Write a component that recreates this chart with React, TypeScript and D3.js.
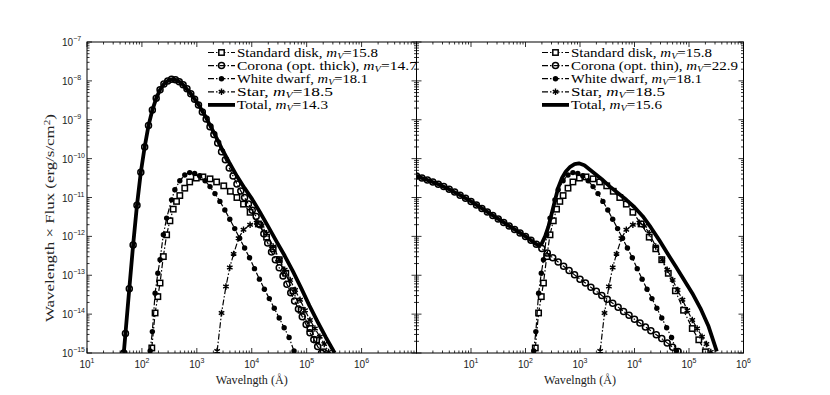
import React from "react";
import * as d3 from "d3";

// values are log10(wavelength in Å), log10(lambda * F_lambda)
const standardDisk: [number, number][] = [
  [2.18, -14.87], [2.24, -13.97], [2.29, -13.55], [2.33, -13.2], [2.39, -12.52], [2.45, -11.96],
  [2.51, -11.6], [2.57, -11.3], [2.63, -11.1], [2.69, -10.95], [2.78, -10.76], [2.87, -10.6],
  [2.99, -10.5], [3.11, -10.47], [3.24, -10.52], [3.36, -10.6], [3.49, -10.7], [3.61, -10.84],
  [3.73, -11.0], [3.85, -11.17], [3.97, -11.38], [4.12, -11.68], [4.27, -12.02], [4.39, -12.32],
  [4.5, -12.6], [4.62, -12.95], [4.75, -13.4], [4.9, -13.9], [5.06, -14.37], [5.18, -14.66], [5.3, -14.97],
];

const whiteDwarf: [number, number][] = [
  [2.15, -14.95], [2.19, -14.45], [2.24, -13.46], [2.29, -12.95], [2.33, -12.6], [2.39, -11.96],
  [2.45, -11.53], [2.54, -11.06], [2.6, -10.8], [2.69, -10.57], [2.78, -10.42], [2.87, -10.36],
  [2.96, -10.38], [3.05, -10.44], [3.15, -10.57], [3.24, -10.72], [3.33, -10.9], [3.42, -11.1],
  [3.51, -11.32], [3.6, -11.56], [3.69, -11.8], [3.78, -12.05], [3.87, -12.3], [3.96, -12.55],
  [4.05, -12.83], [4.14, -13.1], [4.23, -13.36], [4.32, -13.6], [4.41, -13.85], [4.5, -14.1],
  [4.59, -14.35], [4.68, -14.6], [4.77, -14.95],
];

const star: [number, number][] = [
  [3.37, -14.95], [3.45, -13.97], [3.53, -13.29], [3.6, -12.8], [3.67, -12.45], [3.76, -12.05],
  [3.85, -11.83], [3.97, -11.7], [4.09, -11.65], [4.18, -11.73], [4.27, -11.92], [4.39, -12.26],
  [4.51, -12.6], [4.6, -12.86], [4.7, -13.12], [4.79, -13.38], [4.88, -13.63], [4.97, -13.9],
  [5.06, -14.15], [5.15, -14.37], [5.24, -14.58], [5.32, -14.77], [5.4, -14.97],
];

const coronaThick: [number, number][] = [
  [1.67, -15.0], [1.7, -14.5], [1.77, -13.35], [1.84, -12.22], [1.91, -11.2], [1.98, -10.35],
  [2.05, -9.7], [2.12, -9.15], [2.19, -8.75], [2.26, -8.45], [2.33, -8.23], [2.4, -8.08],
  [2.47, -8.0], [2.54, -7.96], [2.61, -7.97], [2.68, -8.02], [2.75, -8.1], [2.82, -8.2],
  [2.89, -8.33], [2.96, -8.47], [3.03, -8.62], [3.1, -8.8], [3.17, -8.98], [3.24, -9.18],
  [3.31, -9.38], [3.38, -9.6], [3.45, -9.82], [3.52, -10.03], [3.59, -10.24], [3.66, -10.45],
  [3.73, -10.65], [3.8, -10.83], [3.87, -11.0], [3.94, -11.17], [4.01, -11.33], [4.08, -11.49],
  [4.15, -11.7], [4.22, -11.93], [4.29, -12.17], [4.36, -12.4], [4.43, -12.6], [4.5, -12.81],
  [4.57, -13.02], [4.64, -13.23], [4.71, -13.45], [4.78, -13.66], [4.85, -13.87], [4.92, -14.07],
  [4.99, -14.27], [5.06, -14.48], [5.13, -14.65], [5.2, -14.83], [5.27, -15.0],
];

const totalThick: [number, number][] = [
  [1.67, -15.0], [1.7, -14.5], [1.77, -13.35], [1.84, -12.22], [1.91, -11.2], [1.98, -10.35],
  [2.05, -9.7], [2.12, -9.15], [2.19, -8.75], [2.26, -8.45], [2.33, -8.23], [2.4, -8.08],
  [2.47, -8.0], [2.54, -7.96], [2.61, -7.97], [2.68, -8.02], [2.75, -8.1], [2.89, -8.33],
  [3.03, -8.61], [3.17, -8.95], [3.31, -9.33], [3.45, -9.73], [3.59, -10.1], [3.73, -10.45],
  [3.87, -10.76], [4.01, -11.05], [4.15, -11.38], [4.3, -11.75], [4.45, -12.13], [4.6, -12.5],
  [4.75, -12.9], [4.9, -13.33], [5.05, -13.78], [5.2, -14.2], [5.35, -14.6], [5.51, -15.0],
];

const coronaThin: [number, number][] = [
  [0.0, -10.45], [0.1, -10.5], [0.2, -10.55], [0.3, -10.6], [0.4, -10.66], [0.5, -10.72],
  [0.6, -10.79], [0.7, -10.86], [0.8, -10.94], [0.9, -11.02], [1.0, -11.1], [1.1, -11.19],
  [1.2, -11.28], [1.3, -11.37], [1.4, -11.46], [1.5, -11.55], [1.6, -11.64], [1.7, -11.73],
  [1.8, -11.82], [1.9, -11.91], [2.0, -12.0], [2.1, -12.1], [2.2, -12.2], [2.3, -12.31],
  [2.4, -12.43], [2.5, -12.55], [2.6, -12.66], [2.7, -12.77], [2.8, -12.88], [2.9, -12.99],
  [3.0, -13.1], [3.1, -13.2], [3.2, -13.31], [3.3, -13.41], [3.4, -13.52], [3.5, -13.62],
  [3.6, -13.72], [3.7, -13.82], [3.8, -13.93], [3.9, -14.03], [4.0, -14.13], [4.1, -14.23],
  [4.2, -14.33], [4.3, -14.43], [4.4, -14.53], [4.5, -14.63], [4.6, -14.74], [4.7, -14.85], [4.8, -14.96],
];

const totalThin: [number, number][] = [
  [0.0, -10.45], [0.2, -10.55], [0.4, -10.66], [0.6, -10.79], [0.8, -10.94], [1.0, -11.1],
  [1.2, -11.28], [1.4, -11.46], [1.6, -11.64], [1.8, -11.82], [2.0, -12.0], [2.15, -12.15],
  [2.24, -12.24], [2.3, -12.18], [2.36, -12.0], [2.42, -11.75], [2.48, -11.42], [2.54, -11.08],
  [2.6, -10.75], [2.67, -10.5], [2.74, -10.33], [2.82, -10.21], [2.9, -10.14], [2.98, -10.12],
  [3.08, -10.17], [3.24, -10.35], [3.4, -10.53], [3.55, -10.72], [3.7, -10.89], [3.85, -11.06],
  [4.0, -11.25], [4.15, -11.48], [4.3, -11.77], [4.45, -12.09], [4.6, -12.43], [4.76, -12.78],
  [4.91, -13.12], [5.06, -13.46], [5.21, -13.85], [5.36, -14.32], [5.51, -14.96],
];

const yTickExps = [-7, -8, -9, -10, -11, -12, -13, -14, -15];
const leftXTickExps = [1, 2, 3, 4, 5, 6];
const rightXTickExps = [1, 2, 3, 4, 5, 6];
const leftNames = ["Standard disk", "Corona (opt. thick)", "White dwarf", "Star", "Total"];
const rightNames = ["Standard disk", "Corona (opt. thin)", "White dwarf", "Star", "Total"];
const leftMags = ["15.8", "14.7", "18.1", "18.5", "14.3"];
const rightMags = ["15.8", "22.9", "18.1", "18.5", "15.6"];

// layout: widths of the legend texts as they appear in the reference
const leftLegendWidths = [141, 180, 131, 96, 91];
const rightLegendWidths = [141, 167, 131, 94, 91];

const TOP = 42;
const BOTTOM = 353;
const serif = "'Liberation Serif', serif";
const sans = "'Liberation Sans', sans-serif";
const DASHDOT = "6,2,1.5,2";

type Kind = "square" | "circle" | "dot" | "star" | "total";

function Marker({ kind, cx, cy }: { kind: Kind; cx: number; cy: number }) {
  if (kind === "square")
    return <rect x={cx - 2.7} y={cy - 2.7} width={5.4} height={5.4} fill="white" stroke="black" strokeWidth={1.5} />;
  if (kind === "circle")
    return <circle cx={cx} cy={cy} r={3} fill="none" stroke="black" strokeWidth={1.5} />;
  if (kind === "dot") return <circle cx={cx} cy={cy} r={2.7} fill="black" />;
  if (kind === "star")
    return (
      <path
        d={d3.symbol(d3.symbolAsterisk, 28)() || ""}
        transform={`translate(${cx},${cy})`}
        fill="none"
        stroke="black"
        strokeWidth={1.4}
      />
    );
  return null;
}

function Panel(props: {
  id: string;
  x0: number;
  x1: number;
  xDomain: [number, number];
  corona: [number, number][];
  total: [number, number][];
  names: string[];
  mags: string[];
  widths: number[];
  xTickExps: number[];
  showY: boolean;
  legendX: number;
}) {
  const { id, x0, x1, xDomain, corona, total, names, mags, widths, xTickExps, showY, legendX } = props;
  const x = d3.scaleLog().domain(xDomain).range([x0, x1]);
  const y = d3.scaleLog().domain([1e-7, 1e-15]).range([TOP, BOTTOM]);
  const line = d3
    .line<[number, number]>()
    .x((d) => x(Math.pow(10, d[0])))
    .y((d) => y(Math.pow(10, d[1])));

  const series: { data: [number, number][]; kind: Kind }[] = [
    { data: standardDisk, kind: "square" },
    { data: corona, kind: "circle" },
    { data: whiteDwarf, kind: "dot" },
    { data: star, kind: "star" },
  ];

  const lx0 = Math.log10(xDomain[0]);
  const lx1 = Math.log10(xDomain[1]);
  const xMajor = d3.range(lx0, lx1 + 1);
  const xMinor: number[] = [];
  for (let e = lx0; e < lx1; e++) for (let k = 2; k <= 9; k++) xMinor.push(k * Math.pow(10, e));
  const yMajor = d3.range(-15, -6);
  const yMinor: number[] = [];
  for (let e = -15; e < -7; e++) for (let k = 2; k <= 9; k++) yMinor.push(k * Math.pow(10, e));

  const legendRows = [0, 1, 2, 3, 4];
  const kinds: Kind[] = ["square", "circle", "dot", "star", "total"];

  return (
    <g>
      <defs>
        <clipPath id={`clip-${id}`}>
          <rect x={x0} y={TOP} width={x1 - x0} height={BOTTOM - TOP} />
        </clipPath>
      </defs>
      <g clipPath={`url(#clip-${id})`}>
        {series.map((s, i) => (
          <g key={i}>
            <path d={line(s.data) || ""} fill="none" stroke="black" strokeWidth={1.2} strokeDasharray={DASHDOT} />
            {s.data.map((d, j) => (
              <Marker key={j} kind={s.kind} cx={x(Math.pow(10, d[0]))} cy={y(Math.pow(10, d[1]))} />
            ))}
          </g>
        ))}
        <path d={line(total) || ""} fill="none" stroke="black" strokeWidth={3.8} strokeLinejoin="round" />
      </g>
      {/* frame and ticks */}
      <rect x={x0} y={TOP} width={x1 - x0} height={BOTTOM - TOP} fill="none" stroke="black" strokeWidth={1} />
      <g stroke="black" strokeWidth={0.8}>
        {xMajor.map((e) => (
          <g key={`xM${e}`}>
            <line x1={x(Math.pow(10, e))} x2={x(Math.pow(10, e))} y1={BOTTOM} y2={BOTTOM - 5} />
            <line x1={x(Math.pow(10, e))} x2={x(Math.pow(10, e))} y1={TOP} y2={TOP + 5} />
          </g>
        ))}
        {xMinor.map((v, i) => (
          <g key={`xm${i}`}>
            <line x1={x(v)} x2={x(v)} y1={BOTTOM} y2={BOTTOM - 2.5} />
            <line x1={x(v)} x2={x(v)} y1={TOP} y2={TOP + 2.5} />
          </g>
        ))}
        {yMajor.map((e) => (
          <g key={`yM${e}`}>
            <line x1={x0} x2={x0 + 5} y1={y(Math.pow(10, e))} y2={y(Math.pow(10, e))} />
            <line x1={x1} x2={x1 - 5} y1={y(Math.pow(10, e))} y2={y(Math.pow(10, e))} />
          </g>
        ))}
        {yMinor.map((v, i) => (
          <g key={`ym${i}`}>
            <line x1={x0} x2={x0 + 2.5} y1={y(v)} y2={y(v)} />
            <line x1={x1} x2={x1 - 2.5} y1={y(v)} y2={y(v)} />
          </g>
        ))}
      </g>
      {/* tick labels */}
      <g fontFamily={sans} fontSize={10} fill="#222">
        {xTickExps.map((e) => (
          <text key={`xl${e}`} x={x(Math.pow(10, e))} y={368} textAnchor="middle">
            <tspan>10</tspan>
            <tspan dy={-5} fontSize={7}>{e}</tspan>
          </text>
        ))}
        {showY &&
          yTickExps.map((e) => (
            <text key={`yl${e}`} x={62} y={y(Math.pow(10, e)) + 4}>
              <tspan>10</tspan>
              <tspan dy={-5} fontSize={7}>{`\u2212${-e}`}</tspan>
            </text>
          ))}
      </g>
      <text
        x={(x0 + x1) / 2 - 36}
        y={384}
        fontFamily={serif}
        fontSize={11.5}
        fill="#222"
        textLength={72}
        lengthAdjust="spacingAndGlyphs"
      >
        Wavelngth (Å)
      </text>
      {/* legend */}
      {legendRows.map((i) => {
        const ly = 52.5 + i * 13.1;
        return (
          <g key={`lg${i}`}>
            {kinds[i] === "total" ? (
              <line x1={legendX} x2={legendX + 27} y1={ly} y2={ly} stroke="black" strokeWidth={3.8} />
            ) : (
              <g>
                <line x1={legendX} x2={legendX + 27} y1={ly} y2={ly} stroke="black" strokeWidth={1.2} strokeDasharray={DASHDOT} />
                <Marker kind={kinds[i]} cx={legendX + 13.5} cy={ly} />
              </g>
            )}
            <text
              x={legendX + 29}
              y={ly + 4}
              fontFamily={serif}
              fontSize={12.5}
              fill="black"
              textLength={widths[i]}
              lengthAdjust="spacingAndGlyphs"
            >
              {names[i]},{" "}
              <tspan fontStyle="italic">m</tspan>
              <tspan fontStyle="italic" fontSize={8.5} dy={2.5}>V</tspan>
              <tspan dy={-2.5}>={mags[i]}</tspan>
            </text>
          </g>
        );
      })}
    </g>
  );
}

export default function App() {
  return (
    <svg width={830} height={395} style={{ position: "absolute", left: 0, top: 0, background: "white" }}>
      <rect x={0} y={0} width={830} height={395} fill="white" />
      <Panel
        id="left"
        x0={87}
        x1={416.5}
        xDomain={[1e1, 1e7]}
        corona={coronaThick}
        total={totalThick}
        names={leftNames}
        mags={leftMags}
        widths={leftLegendWidths}
        xTickExps={leftXTickExps}
        showY={true}
        legendX={208}
      />
      <Panel
        id="right"
        x0={416.5}
        x1={743.5}
        xDomain={[1e0, 1e6]}
        corona={coronaThin}
        total={totalThin}
        names={rightNames}
        mags={rightMags}
        widths={rightLegendWidths}
        xTickExps={rightXTickExps}
        showY={false}
        legendX={542}
      />
      <text
        transform={`translate(54,322) rotate(-90)`}
        fontFamily={serif}
        fontSize={12}
        fill="#222"
        textLength={208}
        lengthAdjust="spacingAndGlyphs"
      >
        Wavelength × Flux (erg/s/cm<tspan dy={-4} fontSize={8}>2</tspan><tspan dy={4}>)</tspan>
      </text>
    </svg>
  );
}
